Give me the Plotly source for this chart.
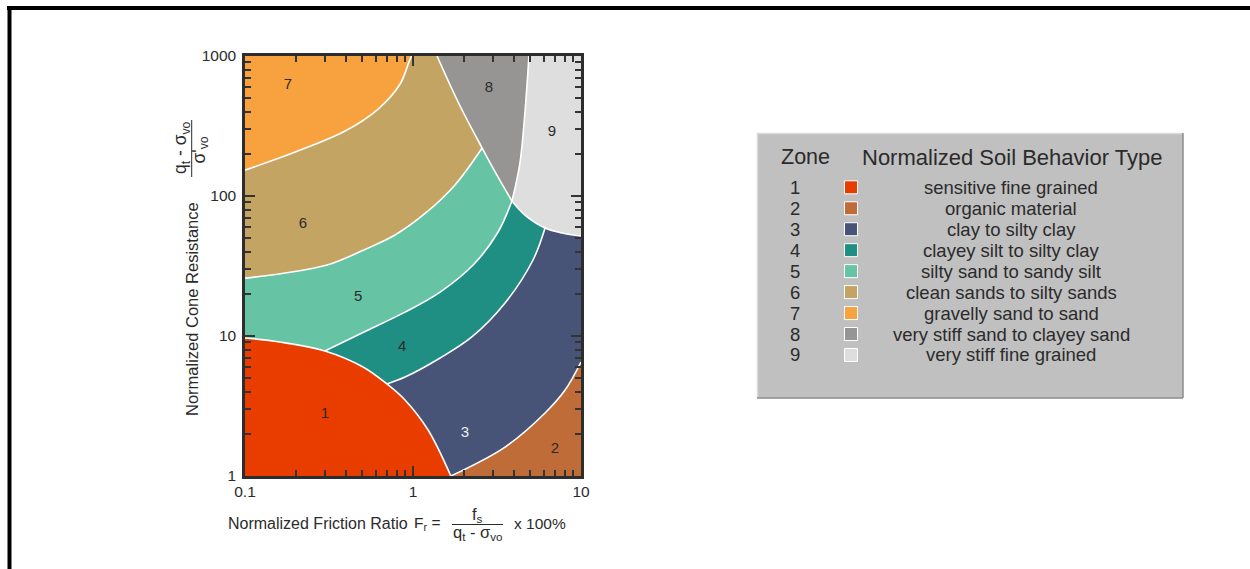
import plotly.graph_objects as go

# ---------------- data ----------------
zone_ids = ["1", "2", "3", "4", "5", "6", "7", "8", "9"]
zone_names = [
    "sensitive fine grained",
    "organic material",
    "clay to silty clay",
    "clayey silt to silty clay",
    "silty sand to sandy silt",
    "clean sands to silty sands",
    "gravelly sand to sand",
    "very stiff sand to clayey sand",
    "very stiff fine grained",
]
zone_colors = ["#E93D00", "#C06C39", "#475477", "#1F8F84", "#66C4A4",
               "#C4A462", "#F8A13F", "#969593", "#DEDEDE"]

# zone boundaries: normalized friction ratio Fr (%) and Qt
b1_fr = [0.1, 0.161, 0.299, 0.504, 0.700, 0.896, 1.23, 1.68]
b1_qt = [9.68, 9.06, 7.82, 6.01, 4.54, 3.49, 2.13, 1.0]
b23_fr = [1.68, 3.53, 6.11, 8.04, 10]
b23_qt = [1.0, 1.61, 2.82, 4.11, 6.52]
b34_fr = [0.700, 0.896, 1.45, 2.24, 3.53, 5.18, 6.11]
b34_qt = [4.54, 5.09, 6.97, 9.84, 17.2, 34.9, 59.1]
b45_fr = [0.299, 0.504, 0.896, 1.45, 2.31, 3.21, 3.88]
b45_qt = [7.82, 10.6, 14.8, 20.6, 32.7, 55.3, 92.1]
b56_fr = [0.1, 0.173, 0.308, 0.518, 0.781, 1.21, 1.778, 2.58]
b56_qt = [25.9, 28.2, 32.1, 41.5, 52.6, 76.9, 119.9, 220]
b67_fr = [0.1, 0.199, 0.394, 0.62, 0.838, 0.946, 0.98]
b67_qt = [153, 206, 291, 418, 631, 906, 1000]
b8_fr = [1.39, 1.88, 2.58, 3.16, 3.88]
b8_qt = [1000, 454, 220, 141, 92.1]
b89_fr = [4.90, 4.64, 4.34, 4.05, 3.88]
b89_qt = [1000, 398, 175, 114, 92.1]
b9_fr = [3.88, 4.64, 6.11, 7.71, 10]
b9_qt = [92.1, 73.1, 59.1, 54.4, 51.8]

label_fr = [0.299, 7.0, 2.04, 0.861, 0.471, 0.221, 0.180, 2.83, 6.71]
label_qt = [2.77, 1.56, 2.03, 8.34, 19.0, 63.1, 621, 591, 287]

x_tickvals = [0.1, 1, 10]
x_ticktext = ["0.1", "1", "10"]
y_tickvals = [1, 10, 100, 1000]
y_ticktext = ["1", "10", "100", "1000"]
x_minor = [0.2, 0.3, 0.4, 0.5, 0.6, 0.7, 0.8, 0.9, 2, 3, 4, 5, 6, 7, 8, 9]
y_minor = [2, 3, 4, 5, 6, 7, 8, 9, 20, 30, 40, 50, 60, 70, 80, 90,
           200, 300, 400, 500, 600, 700, 800, 900]

XMIN, XMAX, YMIN, YMAX = 0.1, 10, 1, 1000


# ---------------- zone polygons built from the boundaries ----------------
def rev(c):
    return (list(reversed(c[0])), list(reversed(c[1])))


def part(fr, qt, a=None, b=None):
    return (fr[a:b], qt[a:b])


def edge(x0, y0, x1, y1):
    return ([x0, x1], [y0, y1])


def poly(*chunks):
    # end points of every chunk are doubled so the spline keeps sharp corners there
    xs, ys = [], []
    for cx, cy in chunks:
        xs += [cx[0]] + list(cx) + [cx[-1]]
        ys += [cy[0]] + list(cy) + [cy[-1]]
    return xs, ys


B1 = (b1_fr, b1_qt)
B23 = (b23_fr, b23_qt)
B34 = (b34_fr, b34_qt)
B45 = (b45_fr, b45_qt)
B56 = (b56_fr, b56_qt)
B67 = (b67_fr, b67_qt)
B8 = (b8_fr, b8_qt)
B89 = (b89_fr, b89_qt)
B9 = (b9_fr, b9_qt)

polys = {
    "1": poly(edge(XMIN, YMIN, XMIN, b1_qt[0]), B1, edge(b1_fr[-1], YMIN, XMIN, YMIN)),
    "2": poly(B23, edge(XMAX, b23_qt[-1], XMAX, YMIN), edge(XMAX, YMIN, b23_fr[0], YMIN)),
    "3": poly(B34, part(b9_fr, b9_qt, 2), edge(XMAX, b9_qt[-1], XMAX, b23_qt[-1]),
              rev(B23), rev(part(b1_fr, b1_qt, 4))),
    "4": poly(B45, part(b9_fr, b9_qt, None, 3), rev(B34), rev(part(b1_fr, b1_qt, 2, 5))),
    "5": poly(B56, part(b8_fr, b8_qt, 2), rev(B45), rev(part(b1_fr, b1_qt, None, 3)),
              edge(XMIN, b1_qt[0], XMIN, b56_qt[0])),
    "6": poly(B67, edge(b67_fr[-1], YMAX, b8_fr[0], YMAX), part(b8_fr, b8_qt, None, 3),
              rev(B56), edge(XMIN, b56_qt[0], XMIN, b67_qt[0])),
    "7": poly(B67, edge(b67_fr[-1], YMAX, XMIN, YMAX), edge(XMIN, YMAX, XMIN, b67_qt[0])),
    "8": poly(B8, rev(B89), edge(b89_fr[0], YMAX, b8_fr[0], YMAX)),
    "9": poly(B89, B9, edge(XMAX, b9_qt[-1], XMAX, YMAX), edge(XMAX, YMAX, b89_fr[0], YMAX)),
}

fig = go.Figure()
for zid, col in zip(zone_ids, zone_colors):
    xs, ys = polys[zid]
    fig.add_trace(go.Scatter(x=xs, y=ys, mode="lines", fill="toself",
                             fillcolor=col,
                             line=dict(width=0, color=col, shape="spline",
                                       smoothing=1, simplify=False),
                             hoverinfo="skip", showlegend=False))

for bx, by in [B1, B23, B34, B45, B56, B67, B8, B89, B9]:
    fig.add_trace(go.Scatter(x=bx, y=by, mode="lines",
                             line=dict(color="white", width=1.6, shape="spline",
                                       smoothing=1, simplify=False),
                             hoverinfo="skip", showlegend=False))

label_colors = ["#2b2b2b"] * 9
label_colors[2] = "#eeeeee"
fig.add_trace(go.Scatter(x=label_fr, y=label_qt, mode="text", text=zone_ids,
                         textfont=dict(family="Liberation Sans, Arial", size=15,
                                       color=label_colors),
                         hoverinfo="skip", showlegend=False))

# ---------------- layout helpers (pixel -> paper) ----------------
W, H = 1250, 569
PL, PR, PT, PB = 245, 581, 56, 476


def px(x):
    return (x - PL) / (PR - PL)


def py(y):
    return (PB - y) / (PB - PT)


FONT = "Liberation Sans, Arial, sans-serif"
TXT = "#2b2b2b"

shapes = []
annotations = []

# outer black frame (top and left)
shapes.append(dict(type="rect", xref="paper", yref="paper", x0=px(7), x1=px(1251),
                   y0=py(10), y1=py(6), fillcolor="black", line=dict(width=0)))
shapes.append(dict(type="rect", xref="paper", yref="paper", x0=px(7.5), x1=px(11.5),
                   y0=py(570), y1=py(6), fillcolor="black", line=dict(width=0)))

# legend box
shapes.append(dict(type="rect", xref="paper", yref="paper", x0=px(757), x1=px(1183),
                   y0=py(398), y1=py(133), fillcolor="#C0C0C0", line=dict(width=0)))
shapes.append(dict(type="line", xref="paper", yref="paper", x0=px(757), x1=px(1183),
                   y0=py(133.5), y1=py(133.5), line=dict(color="#DADADA", width=1.5)))
shapes.append(dict(type="line", xref="paper", yref="paper", x0=px(757.5), x1=px(757.5),
                   y0=py(133), y1=py(398), line=dict(color="#DADADA", width=1.5)))
shapes.append(dict(type="line", xref="paper", yref="paper", x0=px(757), x1=px(1183),
                   y0=py(398), y1=py(398), line=dict(color="#8C8C8C", width=1.5)))
shapes.append(dict(type="line", xref="paper", yref="paper", x0=px(1183), x1=px(1183),
                   y0=py(133), y1=py(398), line=dict(color="#8C8C8C", width=1.5)))


def ann(x, y, text, size, xanchor="center", angle=0, color=TXT):
    annotations.append(dict(xref="paper", yref="paper", x=px(x), y=py(y), text=text,
                            showarrow=False, xanchor=xanchor, yanchor="middle",
                            textangle=angle, font=dict(family=FONT, size=size, color=color)))


ann(805, 157, "Zone", 21.5)
ann(1012, 157, "Normalized Soil Behavior Type", 22)
for i, (zid, name, col) in enumerate(zip(zone_ids, zone_names, zone_colors)):
    yy = 187.3 + i * 20.96
    ann(795, yy, zid, 18.5)
    ann(1011, yy, name, 18.5)
    shapes.append(dict(type="rect", xref="paper", yref="paper",
                       x0=px(844.5), x1=px(857.5), y0=py(yy + 6.5), y1=py(yy - 6.5),
                       fillcolor=col, line=dict(color="white", width=1)))

# x axis title
ann(317.5, 523, "Normalized Friction Ratio", 16)
ann(412, 523, "F<sub>r</sub> =", 15.5, xanchor="left")
ann(477.5, 515, "f<sub>s</sub>", 16.5)
shapes.append(dict(type="line", xref="paper", yref="paper", x0=px(452), x1=px(503),
                   y0=py(524.5), y1=py(524.5), line=dict(color=TXT, width=1)))
ann(477.5, 533, "q<sub>t</sub> - σ<sub>vo</sub>", 16.5)
ann(512, 523, "x 100%", 15.5, xanchor="left")

# y axis title
ann(192, 309, "Normalized Cone Resistance", 16.5, angle=-90)
ann(181, 148, "q<sub>t</sub> - σ<sub>vo</sub>", 17.5, angle=-90)
shapes.append(dict(type="line", xref="paper", yref="paper", x0=px(191.7), x1=px(191.7),
                   y0=py(120), y1=py(177), line=dict(color=TXT, width=1)))
ann(199.5, 150, "σ'<sub>vo</sub>", 17.5, angle=-90)

axis_common = dict(type="log", showgrid=False, zeroline=False, showline=True,
                   linecolor="#2d2d2d", linewidth=2.5, mirror="ticks",
                   ticks="inside", ticklen=10, tickwidth=1.5, tickcolor="#333333",
                   tickfont=dict(family=FONT, size=15.5, color=TXT))

fig.update_layout(
    width=W, height=H, autosize=False,
    margin=dict(l=PL, r=W - PR, t=PT, b=H - PB, pad=0),
    paper_bgcolor="white", plot_bgcolor="white",
    showlegend=False,
    shapes=shapes, annotations=annotations,
    xaxis=dict(axis_common, range=[-1, 1], tickmode="array",
               tickvals=x_tickvals, ticktext=x_ticktext,
               minor=dict(ticks="inside", ticklen=6, tickwidth=1.5, tickcolor="#333333",
                          tickmode="array", tickvals=x_minor, showgrid=False)),
    yaxis=dict(axis_common, range=[0, 3], tickmode="array",
               tickvals=y_tickvals, ticktext=y_ticktext, ticklabelstandoff=3,
               minor=dict(ticks="inside", ticklen=6, tickwidth=1.5, tickcolor="#333333",
                          tickmode="array", tickvals=y_minor, showgrid=False)),
)

fig.write_html("out.html", config={"displayModeBar": False},
               post_script="document.body.style.margin='0';document.body.style.overflow='hidden';")
